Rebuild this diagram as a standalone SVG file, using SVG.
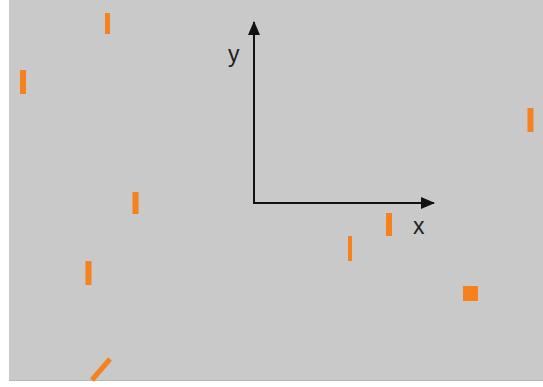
<svg xmlns="http://www.w3.org/2000/svg" width="543" height="387" viewBox="0 0 543 387">
<defs>
<style>
.bar{stroke:#f5821f;stroke-linecap:butt;fill:none}
.ax{stroke:#111;stroke-width:2;fill:none}
.lbl{font-family:"Liberation Sans",Arial,sans-serif;font-size:23px;fill:#222}
</style>
<marker id="ah" viewBox="0 0 14 12" refX="13" refY="6" markerWidth="14" markerHeight="12" markerUnits="userSpaceOnUse" orient="auto">
<path d="M0,0 L14,6 L0,12 Z" fill="#111"/>
</marker>
</defs>
<rect x="0" y="0" width="543" height="387" fill="#ffffff"/>
<rect x="9" y="0" width="534" height="381" fill="#c9c9c9"/>
<line x1="9" y1="380.5" x2="543" y2="380.5" stroke="#b8b8b8" stroke-width="1"/>
<g id="connectors">
<line class="ax" x1="254" y1="204" x2="254" y2="22" marker-end="url(#ah)"/>
<line class="ax" x1="253" y1="203" x2="434" y2="203" marker-end="url(#ah)"/>
</g>
<g id="label-y"><text class="lbl" x="228" y="62">y</text></g>
<g id="label-x"><text class="lbl" x="413" y="234">x</text></g>
<g id="b1"><line class="bar" x1="107.5" y1="13" x2="107.5" y2="34" stroke-width="5"/></g>
<g id="b2"><line class="bar" x1="23" y1="70" x2="23" y2="94" stroke-width="6"/></g>
<g id="b3"><line class="bar" x1="135.5" y1="192" x2="135.5" y2="214" stroke-width="6"/></g>
<g id="b4"><line class="bar" x1="88.5" y1="261" x2="88.5" y2="285" stroke-width="6"/></g>
<g id="b5"><line class="bar" x1="389" y1="213" x2="389" y2="236" stroke-width="6"/></g>
<g id="b6"><line class="bar" x1="350" y1="236" x2="350" y2="261" stroke-width="4"/></g>
<g id="b7"><rect x="463" y="286" width="15" height="15" fill="#f5821f"/></g>
<g id="b8"><line class="bar" x1="530.5" y1="108" x2="530.5" y2="132" stroke-width="6"/></g>
<g id="b9"><line class="bar" x1="110" y1="359" x2="92" y2="380" stroke-width="5"/></g>
</svg>
